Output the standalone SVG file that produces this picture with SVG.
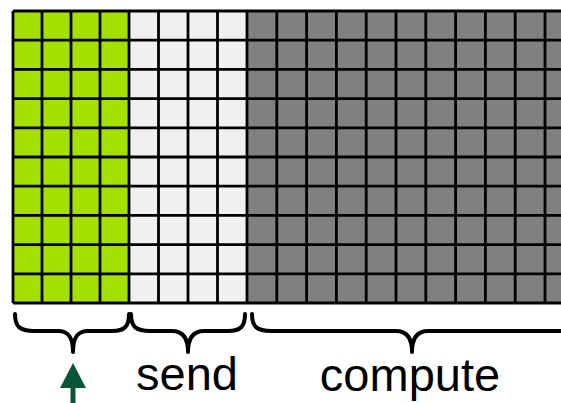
<svg xmlns="http://www.w3.org/2000/svg" width="561" height="403" viewBox="0 0 561 403">
<style>
.grid{fill:none;stroke:#000;stroke-width:2.8}
.brace{fill:none;stroke:#000;stroke-width:4;stroke-linecap:round;stroke-linejoin:round}
.lbl{font-family:"Liberation Sans",Arial,sans-serif;font-size:47px;fill:#000;text-anchor:middle}
</style>
<rect width="561" height="403" fill="#fff"/>
<g id="green-block">
<rect x="13" y="11" width="116" height="292" fill="#a4e000" stroke="#7a7a7a" stroke-width="1"/>
</g>
<g id="send-block">
<rect x="129" y="11" width="118" height="292" fill="#f0f0f0"/>
</g>
<g id="compute-block">
<rect x="247" y="11" width="330" height="292" fill="#808080"/>
</g>
<g id="grid-lines">
<path class="grid" d="M13,11V303M42,11V303M71,11V303M100,11V303M129,11V303M158.5,11V303M188,11V303M217.5,11V303M247,11V303M276.8,11V303M306.6,11V303M336.4,11V303M366.2,11V303M396,11V303M425.8,11V303M455.6,11V303M485.4,11V303M515.2,11V303M545,11V303"/>
<path class="grid" d="M13,11H561M13,40.2H561M13,69.4H561M13,98.6H561M13,127.8H561M13,157H561M13,186.2H561M13,215.4H561M13,244.6H561M13,273.8H561M13,303H561"/>
</g>
<g id="connectors">
<path class="brace" d="M15,314 C15,327 20,331 34,331 H58 C68,331 73,337 73,352 C73,337 78,331 88,331 H112 C125,331 129,326 129,314"/>
<path class="brace" d="M131,314 C131,327 136,331 150,331 H172 C182,331 188,337 188,352 C188,337 194,331 204,331 H228 C241,331 245,326 245,314"/>
<path class="brace" d="M252,314 C252,327 257,331 271,331 H396 C406,331 412,337 412,352 C412,337 418,331 428,331 H565"/>
<path d="M73,363 L60,388 H70.5 V403 H75.5 V388 H86 Z" fill="#0b5537"/>
</g>
<g id="labels">
<text class="lbl" x="187" y="390">send</text>
<text class="lbl" x="410" y="391">compute</text>
</g>
</svg>
